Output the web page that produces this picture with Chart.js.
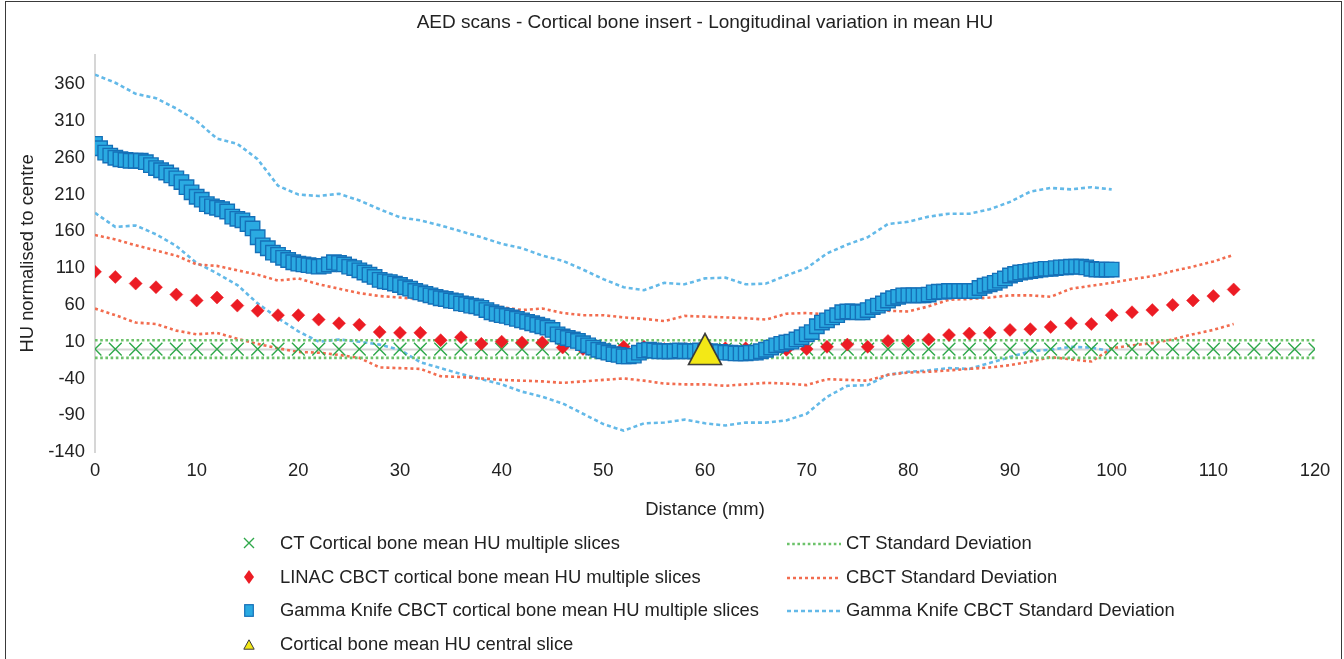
<!DOCTYPE html>
<html>
<head>
<meta charset="utf-8">
<script src="https://cdn.jsdelivr.net/npm/chart.js@4.4.1/dist/chart.umd.min.js"></script>
<style>
html,body{margin:0;padding:0;background:#fff;}
#wrap{position:relative;width:1344px;height:659px;overflow:hidden;font-family:"Liberation Sans",Arial,sans-serif;}
#frame{position:absolute;left:5px;top:1px;width:1337px;height:720px;border:1.5px solid #3a3a3a;box-sizing:border-box;pointer-events:none;}
#c{position:absolute;left:0;top:0;}
.lgt{position:absolute;font-size:18.4px;color:#222;white-space:nowrap;line-height:22px;}
.lgm{position:absolute;}
</style>
</head>
<body>
<div id="wrap">
  <canvas id="c" width="1344" height="659"></canvas>
  <div id="legend"></div>
  <div id="frame"></div>
</div>
<script>
// ---------- data ----------
const TITLE = 'AED scans - Cortical bone insert - Longitudinal variation in mean HU';
const X_TITLE = 'Distance (mm)';
const Y_TITLE = 'HU normalised to centre';
const Y_TICKS = [-140, -90, -40, 10, 60, 110, 160, 210, 260, 310, 360];
const X_TICKS = [0, 10, 20, 30, 40, 50, 60, 70, 80, 90, 100, 110, 120];

// distances (mm) of the 2 mm sampled series
const DIST_2MM = [0,2,4,6,8,10,12,14,16,18,20,22,24,26,28,30,32,34,36,38,40,42,44,46,48,50,52,54,56,58,
  60,62,64,66,68,70,72,74,76,78,80,82,84,86,88,90,92,94,96,98,100,102,104,106,108,110,112,114,116,118,120];

const CT_MEAN = [0,0,0,0,0,0,0,0,0,0,0,0,0,0,0,0,0,0,0,0,0,0,0,0,0,0,0,0,0,0,
  0,0,0,0,0,0,0,0,0,0,0,0,0,0,0,0,0,0,0,0,0,0,0,0,0,0,0,0,0,0,0];
const CT_SD_UPPER = [12,12,12,12,12,12,12,12,12,12,12,12,12,12,12,12,12,12,12,12,12,12,12,12,12,12,12,12,12,12,
  12,12,12,12,12,12,12,12,12,12,12,12,12,12,12,12,12,12,12,12,12,12,12,12,12,12,12,12,12,12,12];
const CT_SD_LOWER = [-12,-12,-12,-12,-12,-12,-12,-12,-12,-12,-12,-12,-12,-12,-12,-12,-12,-12,-12,-12,-12,-12,-12,-12,-12,-12,-12,-12,-12,-12,
  -12,-12,-12,-12,-12,-12,-12,-12,-12,-12,-12,-12,-12,-12,-12,-12,-12,-12,-12,-12,-12,-12,-12,-12,-12,-12,-12,-12,-12,-12,-12];

// LINAC CBCT, 0..112 mm every 2 mm
const LINAC_MEAN = [105,98,89,84,74,66,70,59,52,46,
  46,40,35,33,23,22,22,12,16,7,
  10,9,9,2,0,-1,3,3,0,0,
  0,1,1,0,-1,0,3,6,3,11,
  11,13,19,21,22,26,27,30,35,34,
  46,50,53,60,66,72,81];
const CBCT_SD_UPPER = [155,149,141,134,127,115,113,107,101,93,
  96,88,82,76,72,70,68,66,63,60,
  57,53,55,49,46,46,43,41,38,45,
  44,43,42,40,48,49,47,50,51,52,
  51,58,67,68,70,73,73,71,82,86,
  90,95,99,106,112,119,128];
const CBCT_SD_LOWER = [55,46,36,34,25,20,22,14,7,1,
  -4,-5,-8,-12,-25,-26,-27,-37,-38,-40,
  -42,-43,-44,-46,-44,-42,-40,-43,-47,-48,
  -48,-50,-48,-46,-47,-49,-41,-42,-43,-35,
  -32,-31,-29,-27,-25,-22,-17,-11,-14,-17,
  1,5,8,13,20,26,34];

// Gamma Knife CBCT SD, 0..100 mm every 2 mm
const GK_SD_UPPER = [373,362,347,341,327,310,286,279,258,222,
  210,208,211,202,190,179,175,168,160,152,
  143,137,127,120,108,95,84,80,90,88,
  96,97,88,89,100,110,130,142,152,170,
  173,180,184,184,190,200,214,219,217,220,
  217];
const GK_SD_LOWER = [185,166,168,156,140,117,103,87,62,42,
  24,10,13,10,6,-1,-18,-26,-34,-41,
  -48,-58,-65,-74,-88,-102,-111,-101,-100,-96,
  -101,-104,-100,-100,-97,-88,-65,-50,-49,-35,
  -31,-29,-26,-27,-19,-11,-3,-1,3,2,
  -3];

// Gamma Knife CBCT mean, 0..100 mm every 0.5 mm
const GK_STEP_MM = 0.5;
const GK_MEAN = [
  279,273,267,263,260,258,257,256,256,256,
  254,250,246,243,240,236,232,227,220,213,
  207,203,197,194,192,190,187,180,177,175,
  170,164,152,141,137,131,128,124,121,118,
  116,115,114,113,112,113,115,118,117,115,
  112,110,107,104,101,98,94,92,91,89,
  87,84,82,79,77,75,73,71,69,68,
  66,65,62,61,59,58,56,53,50,48,
  46,45,43,41,39,37,35,33,31,29,
  26,20,17,15,13,11,8,5,2,-1,
  -3,-5,-7,-8,-10,-10,-9,-5,-2,-1,
  -2,-3,-3,-3,-3,-2,-3,-3,-3,-2,
  -3,-3,-4,-4,-5,-5,-6,-6,-6,-5,
  -5,-3,-1,2,5,7,9,10,13,16,
  20,23,31,36,39,43,46,50,51,51,
  50,50,53,57,59,62,66,69,71,73,
  73,73,73,73,74,77,78,78,79,79,
  79,79,79,79,83,86,88,90,93,96,
  100,102,104,105,106,107,108,109,109,110,
  111,111,112,112,112,111,109,108,108,108,
  108];

// central slice
const CENTRAL_X = [60];
const CENTRAL_Y = [0];

// ---------- helpers ----------
function pts2mm(vals){ return vals.map((v,i)=>({x: DIST_2MM[i], y: v})); }
function ptsGK(vals){ return vals.map((v,i)=>({x: i*GK_STEP_MM, y: v})); }

const C_GREEN = '#2EA84A', C_GREEN_SD = '#6CC26A';
const C_RED = '#EC1C24', C_RED_SD = '#F26C4F';
const C_BLUE = '#2AAAE2', C_BLUE_EDGE = '#1570B8', C_BLUE_SD = '#63B9E8';
const C_YELLOW = '#F3E816';

// triangle marker image (centred on its box, like the original)
const tri = document.createElement('canvas');
tri.width = 36; tri.height = 34;
(function(){
  const g = tri.getContext('2d');
  g.beginPath(); g.moveTo(18,1.5); g.lineTo(34.5,32.5); g.lineTo(1.5,32.5); g.closePath();
  g.fillStyle = C_YELLOW; g.fill();
  g.lineWidth = 1.6; g.strokeStyle = '#3a3a3a'; g.stroke();
})();

const FONT = "'Liberation Sans', Arial, sans-serif";
const FS = 18.4;

const datasets = [
  { label:'Cortical bone mean HU central slice', data: CENTRAL_X.map((x,i)=>({x, y:CENTRAL_Y[i]})),
    showLine:false, pointStyle: tri, pointRadius: 17, legend:{col:0,row:3,kind:'tri'} },
  { label:'Gamma Knife CBCT cortical bone mean HU multiple slices', data: ptsGK(GK_MEAN),
    showLine:false, pointStyle:'rect', pointRadius:10.2, backgroundColor:C_BLUE, borderColor:C_BLUE_EDGE,
    pointBorderWidth:1.4, legend:{col:0,row:2,kind:'sq'} },
  { label:'LINAC CBCT cortical bone mean HU multiple slices', data: pts2mm(LINAC_MEAN),
    showLine:false, pointStyle:'rectRot', pointRadius:6.5, backgroundColor:C_RED, borderColor:C_RED,
    pointBorderWidth:0.5, legend:{col:0,row:1,kind:'dia'} },
  { label:'CT Cortical bone mean HU multiple slices', data: pts2mm(CT_MEAN),
    showLine:false, pointStyle:'crossRot', pointRadius:9, borderColor:C_GREEN, backgroundColor:C_GREEN,
    pointBorderWidth:1.4, legend:{col:0,row:0,kind:'x'} },
  { label:'CT Standard Deviation', data: pts2mm(CT_SD_UPPER), borderColor:C_GREEN_SD, borderWidth:2.6,
    borderDash:[2.6,2.6], pointRadius:0, legend:{col:1,row:0,kind:'line'} },
  { label:'CT Standard Deviation', data: pts2mm(CT_SD_LOWER), borderColor:C_GREEN_SD, borderWidth:2.6,
    borderDash:[2.6,2.6], pointRadius:0 },
  { label:'CBCT Standard Deviation', data: pts2mm(CBCT_SD_UPPER), borderColor:C_RED_SD, borderWidth:2.6,
    borderDash:[3,3], pointRadius:0, legend:{col:1,row:1,kind:'line'} },
  { label:'CBCT Standard Deviation', data: pts2mm(CBCT_SD_LOWER), borderColor:C_RED_SD, borderWidth:2.6,
    borderDash:[3,3], pointRadius:0 },
  { label:'Gamma Knife CBCT Standard Deviation', data: pts2mm(GK_SD_UPPER), borderColor:C_BLUE_SD, borderWidth:2.6,
    borderDash:[4,3], pointRadius:0, legend:{col:1,row:2,kind:'line'} },
  { label:'Gamma Knife CBCT Standard Deviation', data: pts2mm(GK_SD_LOWER), borderColor:C_BLUE_SD, borderWidth:2.6,
    borderDash:[4,3], pointRadius:0 }
];
datasets.forEach(d=>{ d.tension = 0; d.fill = false; d.pointHoverRadius = d.pointRadius; });

const zeroLine = {
  id:'zeroLine',
  beforeDatasetsDraw(chart){
    const {ctx, chartArea:a, scales:{y}} = chart;
    const py = Math.round(y.getPixelForValue(0)) + 0.5;
    ctx.save();
    ctx.strokeStyle = '#D6D6D6'; ctx.lineWidth = 2;
    ctx.beginPath(); ctx.moveTo(a.left, py); ctx.lineTo(a.right, py); ctx.stroke();
    ctx.restore();
  }
};

const chart = new Chart(document.getElementById('c'), {
  type:'line',
  data:{ datasets },
  plugins:[zeroLine],
  options:{
    responsive:false,
    animation:false,
    devicePixelRatio:1,
    layout:{ padding:{ left:13, right:29, top:1, bottom:134 } },
    plugins:{
      legend:{ display:false },
      tooltip:{ enabled:false },
      title:{ display:true, fullSize:false, text:TITLE, color:'#222', font:{family:FONT, size:19, weight:'normal'},
              padding:{top:10, bottom:21} }
    },
    scales:{
      x:{
        type:'linear', min:0, max:120,
        ticks:{ stepSize:10, color:'#222', font:{family:FONT, size:FS}, padding:0, maxRotation:0 },
        afterBuildTicks(s){ s.ticks = X_TICKS.map(v=>({value:v})); },
        grid:{ display:false },
        border:{ display:false },
        title:{ display:true, text:X_TITLE, color:'#222', font:{family:FONT, size:FS}, padding:{top:4,bottom:4} },
        afterFit(s){ s.height = 73; }
      },
      y:{
        type:'linear', min:-140, max:400,
        ticks:{ color:'#222', font:{family:FONT, size:FS}, padding:10 },
        afterBuildTicks(s){ s.ticks = Y_TICKS.map(v=>({value:v})); },
        grid:{ display:false, drawTicks:false },
        border:{ display:true, color:'#D6D6D6', width:2 },
        title:{ display:true, text:Y_TITLE, color:'#222', font:{family:FONT, size:FS}, padding:{top:4,bottom:4} },
        afterFit(s){ s.width = 82; }
      }
    }
  }
});

// ---------- HTML legend built from the datasets ----------
const LEG_ROWS = [543, 577, 610, 644];
const LEG_COL_MARK = [249, 814];
const LEG_COL_TEXT = [280, 846];
function markerSVG(d){
  const k = d.legend.kind;
  if (k==='x') return `<svg width="12" height="12"><path d="M1 1L11 11M11 1L1 11" stroke="${C_GREEN}" stroke-width="1.4"/></svg>`;
  if (k==='dia') return `<svg width="10" height="14"><polygon points="5,0 10,7 5,14 0,7" fill="${C_RED}"/></svg>`;
  if (k==='sq') return `<svg width="10" height="13"><rect x="0.7" y="0.7" width="8.6" height="11.6" fill="${C_BLUE}" stroke="${C_BLUE_EDGE}" stroke-width="1.2"/></svg>`;
  if (k==='tri') return `<svg width="12" height="11"><polygon points="6,0.8 11.2,10.2 0.8,10.2" fill="${C_YELLOW}" stroke="#3a3a3a" stroke-width="1"/></svg>`;
  return `<svg width="54" height="4"><line x1="0" y1="2" x2="54" y2="2" stroke="${d.borderColor}" stroke-width="2.6" stroke-dasharray="${d.borderDash.join(' ')}"/></svg>`;
}
const leg = document.getElementById('legend');
datasets.filter(d=>d.legend).forEach(d=>{
  const {col,row} = d.legend;
  const cy = LEG_ROWS[row];
  const m = document.createElement('div');
  m.className = 'lgm';
  m.innerHTML = markerSVG(d);
  const svg = m.firstChild;
  const w = +svg.getAttribute('width'), h = +svg.getAttribute('height');
  m.style.left = (LEG_COL_MARK[col] - w/2) + 'px';
  m.style.top = (cy - h/2) + 'px';
  m.style.height = h + 'px';
  m.style.lineHeight = '0';
  leg.appendChild(m);
  const t = document.createElement('div');
  t.className = 'lgt';
  t.textContent = d.label;
  t.style.left = LEG_COL_TEXT[col] + 'px';
  t.style.top = (cy - 11) + 'px';
  leg.appendChild(t);
});
</script>
</body>
</html>
